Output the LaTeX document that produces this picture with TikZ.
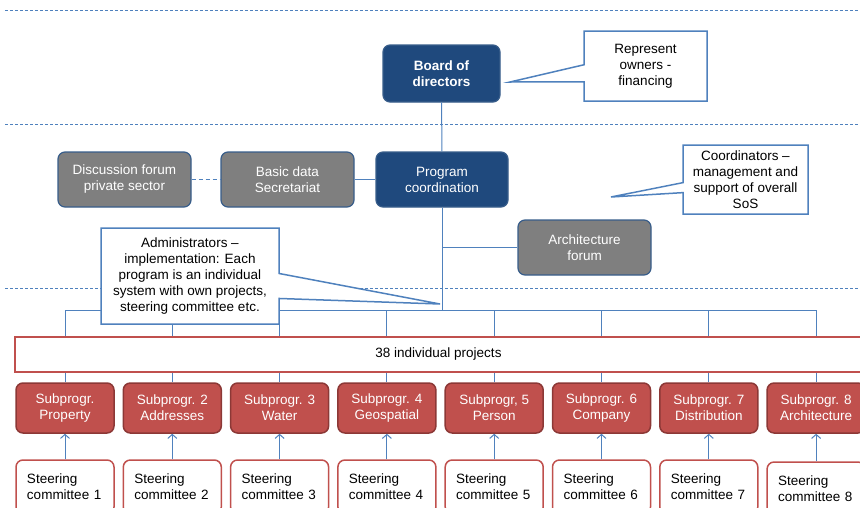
\documentclass[tikz,border=0pt]{standalone}
\usepackage{fontspec}
\setmainfont{Liberation Sans}
\usetikzlibrary{shapes.callouts,arrows.meta}
\definecolor{dirblue}{RGB}{31,73,125}
\definecolor{diredge}{RGB}{56,93,138}
\definecolor{forumgray}{RGB}{127,127,127}
\definecolor{lineblue}{RGB}{79,129,189}
\definecolor{subred}{RGB}{192,80,77}
\definecolor{subedge}{RGB}{140,56,54}
\begin{document}
\begin{tikzpicture}[x=1pt,y=-1pt,font=\fontsize{13.5}{16}\selectfont,
    boss/.style={rectangle,rounded corners=7pt,fill=dirblue,draw=diredge,line width=1.2pt,text=white,align=center,inner sep=0pt,minimum width=132pt,minimum height=55pt},
    forum/.style={boss,fill=forumgray},
    subprog/.style={rectangle,rounded corners=7pt,fill=subred,draw=subedge,line width=1.5pt,text=white,align=center,inner sep=0pt,minimum width=98pt,minimum height=50pt},
    steer/.style={rectangle,rounded corners=7pt,fill=white,draw=subred,line width=1.5pt,align=left,inner sep=0pt,text width=76pt,minimum width=98pt,minimum height=54pt},
    note/.style={rectangle callout,fill=white,draw=lineblue,line width=1.5pt,align=center,inner sep=0pt},
    link/.style={draw=lineblue,line width=1pt},
    level/.style={lineblue,line width=0.8pt,dash pattern=on 3pt off 2pt}]
    % --- Parameters ---
    \def\xfirst{65}     % centre of first subprogram
    \def\dx{107.3}      % distance between subprograms
    \def\rowsub{408}    % subprogram row
    \def\rowsteer{487}  % steering committee row
    \def\ybus{310}      % horizontal bus above the projects
    \useasboundingbox (0,0) rectangle (860,507);
    \clip (0,0) rectangle (860,507);
    % Level separators
    \foreach \y in {10,124,288}
        \draw[level] (5,\y) -- (860,\y);
    % --- Top: board and coordination ---
    \node[boss,font=\fontsize{13.5}{16}\selectfont\bfseries,minimum width=117pt,minimum height=57pt] (board) at (441.5,73.5) {Board of\\directors};
    \node[boss] (prog) at (442,179.5) {Program\\coordination};
    \node[forum,minimum width=133pt] (basic) at (287.5,179.5) {Basic data\\Secretariat};
    \node[forum,minimum width=133pt] (disc) at (124.5,179.5) {Discussion forum\\private sector};
    \node[forum,minimum width=133pt] (arch) at (584.5,247.5) {Architecture\\forum};
    \draw[link] (board) -- (prog);
    \draw[link] (basic) -- (prog);
    \draw[link,dash pattern=on 4pt off 3pt] (disc) -- (basic);
    \draw[link] (prog.south |- arch) -- (arch);
    % --- Projects bar and bus ---
    \node[draw=subred,line width=1.5pt,fill=white,inner sep=0pt,minimum width=847pt,minimum height=35pt] (proj) at (438.5,354.5) {38 individual projects};
    \coordinate (bus) at (442,\ybus);
    \draw[link] (prog) -- (bus);
    % --- Subprograms with their steering committees ---
    \foreach \i/\txt/\sdy in {1/{Subprogr.\\Property}/0, 2/{Subprogr. 2\\Addresses}/0,
        3/{Subprogr. 3\\Water}/0, 4/{Subprogr. 4\\Geospatial}/0, 5/{Subprogr, 5\\Person}/0,
        6/{Subprogr. 6\\Company}/0, 7/{Subprogr. 7\\Distribution}/0, 8/{Subprogr. 8\\Architecture}/2} {
        \node[subprog] (sub\i) at ({\xfirst+(\i-1)*\dx},\rowsub) {\txt};
        \node[steer] (steer\i) at ({\xfirst+(\i-1)*\dx},{\rowsteer+\sdy}) {Steering\\committee \i};
        \draw[link] (sub\i |- bus) -- (sub\i |- proj.north);
        \draw[link] (sub\i |- proj.south) -- (sub\i);
        \draw[link,-{Straight Barb[length=4pt,width=9pt]}] (steer\i) -- (sub\i);
    }
    \draw[link] (sub1 |- bus) -- (sub8 |- bus);
    % --- Callouts ---
    \node[note,callout absolute pointer={(510,82)},callout pointer width=17pt,minimum width=123pt,minimum height=70pt] (owners) at (645.5,66) {Represent\\owners -\\financing};
    \node[note,callout absolute pointer={(611,197)},callout pointer width=10pt,minimum width=125pt,minimum height=69pt] (coord) at (745.5,179.5) {Coordinators –\\management and\\support of overall\\SoS};
    \node[note,callout absolute pointer={(440,304)},callout pointer width=25pt,minimum width=178pt,minimum height=96pt] (admin) at (190,276) {Administrators –\\implementation: Each\\program is an individual\\system with own projects,\\steering committee etc.};
\end{tikzpicture}
\end{document}
